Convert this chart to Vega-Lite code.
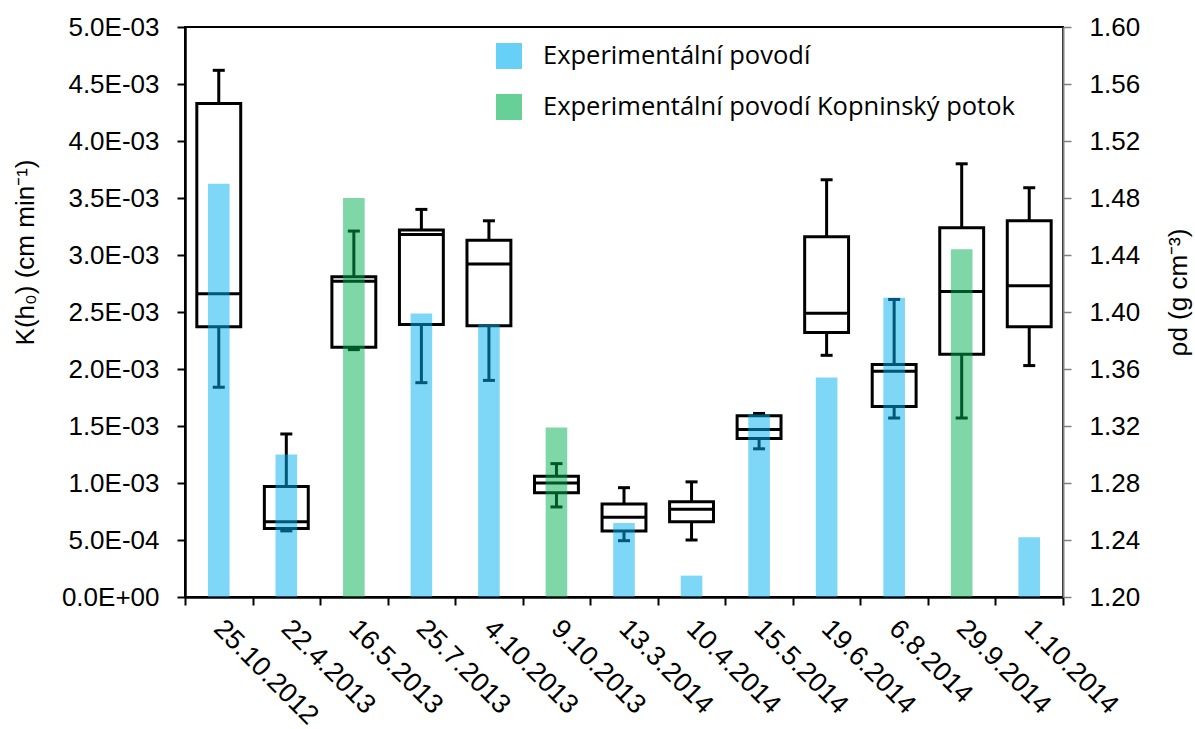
{
  "$schema": "https://vega.github.io/schema/vega-lite/v6.json",
  "width": 878,
  "height": 570,
  "autosize": {"type": "none"},
  "padding": {"left": 185, "top": 27, "right": 132, "bottom": 132},
  "background": "white",
  "config": {
    "view": {"stroke": "black", "strokeWidth": 2},
    "axis": {"labelFont": "Liberation Sans", "titleFont": "Liberation Sans", "labelColor": "black", "titleColor": "black", "grid": false, "titleFontWeight": "normal"}
  },
  "datasets": {
    "d": [
      {"date": "25.10.2012", "site": "Experimentální povodí", "rho": 1.490, "kmin": 0.00184, "kq1": 0.00237, "kmed": 0.00266, "kq3": 0.00433, "kmax": 0.00462},
      {"date": "22.4.2013", "site": "Experimentální povodí", "rho": 1.300, "kmin": 0.00058, "kq1": 0.00060, "kmed": 0.00066, "kq3": 0.00097, "kmax": 0.00143},
      {"date": "16.5.2013", "site": "Experimentální povodí Kopninský potok", "rho": 1.480, "kmin": 0.00217, "kq1": 0.00219, "kmed": 0.00277, "kq3": 0.00281, "kmax": 0.00321},
      {"date": "25.7.2013", "site": "Experimentální povodí", "rho": 1.399, "kmin": 0.00188, "kq1": 0.00239, "kmed": 0.00318, "kq3": 0.00322, "kmax": 0.00340},
      {"date": "4.10.2013", "site": "Experimentální povodí", "rho": 1.391, "kmin": 0.00190, "kq1": 0.00238, "kmed": 0.00292, "kq3": 0.00313, "kmax": 0.00330},
      {"date": "9.10.2013", "site": "Experimentální povodí Kopninský potok", "rho": 1.319, "kmin": 0.00079, "kq1": 0.000915, "kmed": 0.00100, "kq3": 0.00106, "kmax": 0.00117},
      {"date": "13.3.2014", "site": "Experimentální povodí", "rho": 1.252, "kmin": 0.000494, "kq1": 0.000579, "kmed": 0.00070, "kq3": 0.000816, "kmax": 0.000959},
      {"date": "10.4.2014", "site": "Experimentální povodí", "rho": 1.215, "kmin": 0.00050, "kq1": 0.000661, "kmed": 0.000769, "kq3": 0.000836, "kmax": 0.00101},
      {"date": "15.5.2014", "site": "Experimentální povodí", "rho": 1.328, "kmin": 0.00130, "kq1": 0.00139, "kmed": 0.00147, "kq3": 0.00159, "kmax": 0.00161},
      {"date": "19.6.2014", "site": "Experimentální povodí", "rho": 1.354, "kmin": 0.00212, "kq1": 0.00232, "kmed": 0.00249, "kq3": 0.00316, "kmax": 0.00366},
      {"date": "6.8.2014", "site": "Experimentální povodí", "rho": 1.410, "kmin": 0.00157, "kq1": 0.00167, "kmed": 0.00198, "kq3": 0.00204, "kmax": 0.00261},
      {"date": "29.9.2014", "site": "Experimentální povodí Kopninský potok", "rho": 1.444, "kmin": 0.00157, "kq1": 0.00213, "kmed": 0.00268, "kq3": 0.00324, "kmax": 0.00380},
      {"date": "1.10.2014", "site": "Experimentální povodí", "rho": 1.242, "kmin": 0.00203, "kq1": 0.00237, "kmed": 0.00273, "kq3": 0.00330, "kmax": 0.00359}
    ]
  },
  "data": {"name": "d"},
  "encoding": {
    "x": {
      "field": "date", "type": "nominal", "sort": null,
      "scale": {"type": "band", "paddingInner": 0, "paddingOuter": 0},
      "axis": {"title": null, "labelAngle": 45, "labelAlign": "left", "labelBaseline": "top", "labelFontSize": 27, "labelPadding": 10, "labelOffset": 8, "tickBand": "extent", "tickSize": 8, "tickWidth": 2, "tickColor": "black", "domainColor": "black", "domainWidth": 2.5}
    }
  },
  "layer": [
    {
      "mark": {"type": "rule", "strokeWidth": 3, "color": "black"},
      "encoding": {
        "y": {"field": "kq3", "type": "quantitative", "scale": {"domain": [0, 0.005]},
          "axis": {"orient": "left", "values": [0, 0.0005, 0.001, 0.0015, 0.002, 0.0025, 0.003, 0.0035, 0.004, 0.0045, 0.005],
            "labelExpr": "datum.value == 0 ? '0.0E+00' : (datum.value < 0.00099 ? format(datum.value * 10000, '.1f') + 'E-04' : format(datum.value * 1000, '.1f') + 'E-03')",
            "labelFontSize": 26, "labelPadding": 18, "tickSize": 8, "tickWidth": 2, "tickColor": "black", "domainColor": "black", "domainWidth": 2.5,
            "title": "K(h₀) (cm min⁻¹)", "titleFontSize": 26, "titleAngle": -90, "titleX": -160, "titleY": 225, "titleAlign": "center", "titleBaseline": "middle"}},
        "y2": {"field": "kmax"}
      }
    },
    {
      "mark": {"type": "rule", "strokeWidth": 3, "color": "black"},
      "encoding": {"y": {"field": "kmin", "type": "quantitative", "scale": {"domain": [0, 0.005]}, "axis": null}, "y2": {"field": "kq1"}}
    },
    {
      "mark": {"type": "tick", "size": 12, "thickness": 3, "color": "black", "opacity": 1},
      "encoding": {"y": {"field": "kmax", "type": "quantitative", "scale": {"domain": [0, 0.005]}, "axis": null}}
    },
    {
      "mark": {"type": "tick", "size": 12, "thickness": 3, "color": "black", "opacity": 1},
      "encoding": {"y": {"field": "kmin", "type": "quantitative", "scale": {"domain": [0, 0.005]}, "axis": null}}
    },
    {
      "mark": {"type": "bar", "filled": false, "color": "black", "strokeWidth": 3, "width": {"band": 0.65}},
      "encoding": {"y": {"field": "kq1", "type": "quantitative", "scale": {"domain": [0, 0.005]}, "axis": null}, "y2": {"field": "kq3"}}
    },
    {
      "mark": {"type": "tick", "size": 44, "thickness": 3, "color": "black", "opacity": 1},
      "encoding": {"y": {"field": "kmed", "type": "quantitative", "scale": {"domain": [0, 0.005]}, "axis": null}}
    },
    {
      "mark": {"type": "bar", "width": {"band": 0.32}, "opacity": 0.5, "clip": true},
      "encoding": {
        "y": {"field": "rho", "type": "quantitative", "scale": {"domain": [1.2, 1.6], "zero": false},
          "axis": {"orient": "right", "values": [1.2, 1.24, 1.28, 1.32, 1.36, 1.4, 1.44, 1.48, 1.52, 1.56, 1.6], "format": ".2f",
            "labelFontSize": 26, "labelPadding": 18, "tickSize": 8, "tickWidth": 1.5, "tickColor": "#808080", "domainColor": "#808080", "domainWidth": 2,
            "title": "ρd (g cm⁻³)", "titleFontSize": 26, "titleAngle": -90, "titleX": 115, "titleY": 265, "titleAlign": "center", "titleBaseline": "middle"}},
        "y2": {"datum": 1.2},
        "color": {"field": "site", "type": "nominal",
          "scale": {"domain": ["Experimentální povodí", "Experimentální povodí Kopninský potok"], "range": ["#00B0F0", "#00B050"]},
          "legend": {"title": null, "orient": "none", "legendX": 311, "legendY": 16, "symbolType": "square", "symbolSize": 676, "symbolOpacity": 0.6, "symbolStrokeWidth": 0,
            "labelFont": "Open Sans", "labelFontSize": 25.5, "labelColor": "black", "labelOffset": 21, "rowPadding": 24, "labelLimit": 600}}
      }
    }
  ],
  "resolve": {"scale": {"y": "independent"}}
}
